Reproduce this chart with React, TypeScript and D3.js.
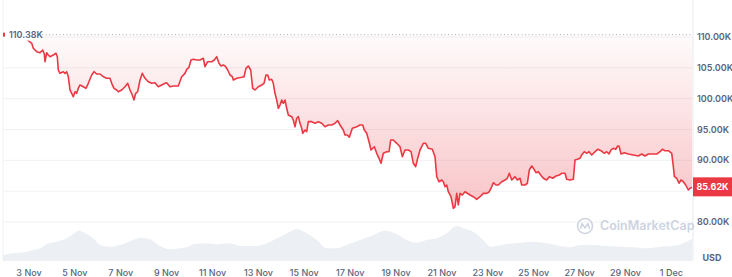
import React from 'react';
import * as d3 from 'd3';

const BASE = Date.UTC(2024, 10, 1);
const DAY = 86400000;

// price series: days since 1 Nov 00:00 UTC, price in thousands USD
const priceDays = [0.867,1.39,1.826,2.118,2.187,2.336,2.479,2.597,2.667,2.697,2.772,2.841,2.915,3.059,3.177,3.234,3.277,3.351,3.495,3.569,3.643,3.713,3.787,3.861,3.931,4.005,4.079,4.149,4.223,4.367,4.485,4.585,4.733,4.833,4.951,5.095,5.239,5.387,5.531,5.605,5.705,5.823,5.893,6.041,6.185,6.302,6.403,6.503,6.577,6.651,6.738,6.839,6.939,7.057,7.2,7.349,7.492,7.636,7.784,7.928,8.002,8.146,8.29,8.508,8.656,8.8,8.874,8.974,9.062,9.162,9.31,9.454,9.598,9.672,9.79,9.964,10.078,10.182,10.282,10.37,10.47,10.574,10.661,10.762,10.862,10.906,11.053,11.271,11.372,11.459,11.559,11.664,11.751,11.851,11.995,12.143,12.244,12.329,12.404,12.475,12.579,12.649,12.723,12.797,12.867,12.941,13.015,13.085,13.159,13.233,13.303,13.451,13.521,13.595,13.669,13.739,13.813,13.887,13.931,14.031,14.105,14.175,14.323,14.467,14.611,14.759,14.903,15.047,15.195,15.339,15.456,15.557,15.7,15.774,15.875,15.962,16.093,16.285,16.428,16.546,16.616,16.72,16.821,16.908,17.052,17.156,17.257,17.344,17.444,17.592,17.693,17.767,17.88,18.028,18.172,18.272,18.39,18.534,18.652,18.752,18.856,18.943,19.044,19.188,19.292,19.406,19.58,19.698,19.772,19.872,19.99,20.06,20.134,20.208,20.278,20.395,20.496,20.57,20.643,20.713,20.788,20.888,21.005,21.224,21.367,21.515,21.659,21.803,21.951,22.064,22.169,22.239,22.357,22.457,22.605,22.749,22.849,22.936,23.041,23.185,23.285,23.403,23.477,23.621,23.721,23.808,23.913,24.013,24.1,24.2,24.305,24.418,24.566,24.68,24.828,24.972,25.116,25.22,25.364,25.438,25.582,25.726,25.8,25.9,26.018,26.092,26.205,26.31,26.41,26.528,26.672,26.79,26.934,27.078,27.182,27.282,27.37,27.47,27.574,27.662,27.718,27.806,27.95,28.124,28.342,28.56,28.708,28.852,28.996,29.214,29.362,29.506,29.606,29.724,29.868,30.016,30.086,30.13,30.232,30.332,30.42,30.52,30.625,30.738,30.812,30.899];
const priceK = [110.38,110.16,109.84,108.98,108.17,107.62,107.45,107.89,107.24,105.99,107.45,107.08,106.81,107.08,107.36,106.81,104.65,104.11,104.37,104.11,104.37,103.56,101.41,100.87,100.32,101.13,100.87,101.68,102.22,101.94,101.68,102.49,103.84,104.37,104.0,104.0,103.56,103.3,103.3,102.49,101.68,101.41,101.13,101.41,101.94,102.49,101.41,100.59,99.78,100.87,101.13,103.03,104.11,103.3,102.75,102.49,102.59,101.94,102.22,102.49,102.59,101.94,102.05,102.05,103.56,104.11,104.76,105.09,106.27,106.38,106.27,106.27,106.55,105.18,105.99,105.99,106.27,106.81,105.74,105.3,105.46,105.18,104.65,103.84,103.56,103.03,103.3,103.46,103.56,104.92,105.3,104.65,101.68,101.41,101.94,102.22,102.49,103.84,103.84,103.03,103.14,102.49,100.87,99.78,98.44,98.97,99.78,99.25,99.78,98.44,97.35,97.08,96.54,95.45,96.82,97.08,96.01,95.19,94.38,94.92,94.64,96.27,96.27,96.01,96.27,96.01,95.45,95.73,95.73,96.01,96.43,95.73,94.92,94.11,94.11,93.74,95.19,95.45,95.73,95.73,94.92,94.38,93.02,91.68,92.21,91.14,90.33,89.52,91.14,91.4,91.4,93.3,93.3,92.76,92.21,90.59,91.68,91.68,91.4,89.52,88.97,90.33,91.68,92.76,92.76,91.95,91.79,90.59,87.35,86.53,86.81,86.53,85.72,86.0,84.91,84.1,82.22,82.48,84.65,82.76,84.65,84.38,84.91,84.38,84.1,83.68,84.1,84.65,84.65,84.91,85.72,86.37,86.0,86.0,86.53,86.81,87.09,87.9,86.81,87.35,86.81,87.09,86.0,86.0,86.28,88.43,89.08,88.55,88.0,88.16,87.62,87.09,86.81,87.35,87.09,87.46,87.62,87.9,87.9,86.92,86.81,86.92,90.05,90.17,90.33,90.87,91.4,91.14,91.4,90.87,91.4,91.79,91.56,91.14,91.4,91.03,91.68,91.95,91.79,92.32,92.32,91.03,91.24,91.03,90.87,90.7,91.03,90.7,91.03,91.03,91.03,91.4,91.79,91.56,91.56,91.14,88.97,87.35,87.09,86.28,86.81,86.53,86.0,85.19,85.46,85.62];

// volume series: days since 1 Nov, volume in billions USD
const volDays = [0.867,1.316,1.9,2.187,2.623,2.772,3.207,3.643,4.005,4.149,4.515,4.803,5.095,5.531,6.111,6.546,6.913,7.274,7.71,8.146,8.582,9.018,9.162,9.746,10.182,10.762,11.198,11.926,12.361,12.941,13.377,13.669,14.105,14.541,14.977,15.413,15.849,16.428,17.008,17.518,18.028,18.464,18.9,19.336,19.772,20.208,20.643,20.931,21.367,21.803,22.095,22.823,23.403,23.983,24.566,25.146,25.582,26.018,26.598,27.182,27.762,28.342,28.926,29.506,30.086,30.522,30.812,30.899];
const volB = [15,19.3,23.3,27.5,35.8,42.5,48.3,56.8,70.8,75.8,67.5,56.8,40,35.8,42.5,52.5,58.3,54.3,37.5,29.3,31.8,37.5,42.5,44.3,41.8,44.3,37.5,37.5,44.3,60.8,73.3,80,69.3,52.5,31.8,31.8,40,52.5,65,75.8,67.5,52.5,45.8,52.5,56.8,69.3,87.5,81.8,73.3,52.5,35.8,42.5,45.8,48.3,44.3,37.5,34.3,40,40,37.5,35.8,34.3,31.8,35.8,37.5,44.3,52.5,55];

const yTicks = [80, 85, 90, 95, 100, 105, 110];
const xTickDays = [2, 4, 6, 8, 10, 12, 14, 16, 18, 20, 22, 24, 26, 28, 30];
const xTickLabels = ['3 Nov', '5 Nov', '7 Nov', '9 Nov', '11 Nov', '13 Nov', '15 Nov', '17 Nov', '19 Nov', '21 Nov', '23 Nov', '25 Nov', '27 Nov', '29 Nov', '1 Dec'];
const refPrice = 110.38;
const lastPrice = 85.62;

const W = 732;
const H = 277;
const RED = '#ea3943';
const TXT = '#58667e';
const GRID = '#eff2f5';
const FONT = 'Inter, "Noto Sans", sans-serif';

const toDate = (d: number) => new Date(BASE + d * DAY);

export default function App() {
  const left = 3;
  const right = 693;
  const x = d3.scaleUtc().domain([toDate(priceDays[0]), toDate(priceDays[priceDays.length - 1])]).range([3, 692]);
  const y = d3.scaleLinear().domain([80, 110]).range([222, 37]);
  const volBase = 261;
  const yv = d3.scaleLinear().domain([0, 200]).range([volBase, 181]);

  const pts = priceDays.map((d, i) => ({ t: toDate(d), p: priceK[i] }));
  const vpts = volDays.map((d, i) => ({ t: toDate(d), v: volB[i] }));

  const line = d3.line<{ t: Date; p: number }>().x((d) => x(d.t)).y((d) => y(d.p));
  const area = d3.area<{ t: Date; p: number }>().x((d) => x(d.t)).y0(y(refPrice)).y1((d) => y(d.p));
  const varea = d3.area<{ t: Date; v: number }>().x((d) => x(d.t)).y0(volBase).y1((d) => yv(d.v)).curve(d3.curveMonotoneX);

  const refY = y(refPrice);
  const lastY = y(lastPrice);
  const fmt = (v: number) => v.toFixed(2) + 'K';

  return (
    <svg width={W} height={H} style={{ position: 'fixed', left: 0, top: 0, background: '#fff' }} fontFamily={FONT}>
      <defs>
        <linearGradient id="pf" gradientUnits="userSpaceOnUse" x1="0" y1={refY} x2="0" y2={y(82)}>
          <stop offset="0" stopColor={RED} stopOpacity={0.02} />
          <stop offset="1" stopColor={RED} stopOpacity={0.3} />
        </linearGradient>
      </defs>
      <rect x={0} y={0} width={W} height={H} fill="#fff" />
      {yTicks.map((t) => (
        <line key={t} x1={left} x2={right} y1={y(t)} y2={y(t)} stroke={GRID} strokeWidth={1} />
      ))}
      <line x1={left} x2={left} y1={0} y2={volBase} stroke={GRID} />
      <line x1={right} x2={right} y1={0} y2={volBase} stroke="#e6e9ee" />
      <path d={varea(vpts) || ''} fill="#e9ecf1" opacity={0.85} />
      <path d={area(pts) || ''} fill="url(#pf)" />
      <path d={line(pts) || ''} fill="none" stroke={RED} strokeWidth={1.6} strokeLinejoin="round" />
      <line x1={42} x2={692} y1={refY} y2={refY} stroke="#a9b2c2" strokeWidth={1} strokeDasharray="1 2.5" />
      <rect x={5} y={refY - 6} width={37} height={12} fill="#fff" />
      <rect x={3} y={refY - 2} width={2} height={4} fill={RED} />
      <text x={9} y={refY} dy="0.35em" fontSize={9} fontWeight={600} fill={TXT}>{fmt(refPrice)}</text>
      {yTicks.filter((t) => t !== 85).map((t) => (
        <text key={t} x={697} y={y(t)} dy="0.35em" fontSize={9} fontWeight={600} fill={TXT}>{fmt(t)}</text>
      ))}
      <rect x={693} y={lastY - 10} width={39} height={19} fill={RED} />
      <text x={712.5} y={lastY - 0.5} dy="0.35em" textAnchor="middle" fontSize={9} fontWeight={700} fill="#fff">{fmt(lastPrice)}</text>
      <text x={712} y={258} dy="0.35em" textAnchor="middle" fontSize={9} fontWeight={700} fill={TXT}>USD</text>
      {xTickDays.map((d, i) => (
        <text key={d} x={x(toDate(d))} y={273} dy="0.35em" textAnchor="middle" fontSize={9} fontWeight={500} fill={TXT}>{xTickLabels[i]}</text>
      ))}
      <g opacity={0.8}>
        <circle cx={585} cy={226} r={7.5} fill="none" stroke="#c3cad8" strokeWidth={1.6} />
        <path d="M580.5,229 L582,223.5 L585,228 L588,223.5 L589.5,229" fill="none" stroke="#c3cad8" strokeWidth={1.4} strokeLinejoin="round" />
        <text x={600} y={226} dy="0.35em" fontSize={12.5} fontWeight={600} fill="#c3cad8">CoinMarketCap</text>
      </g>
    </svg>
  );
}
